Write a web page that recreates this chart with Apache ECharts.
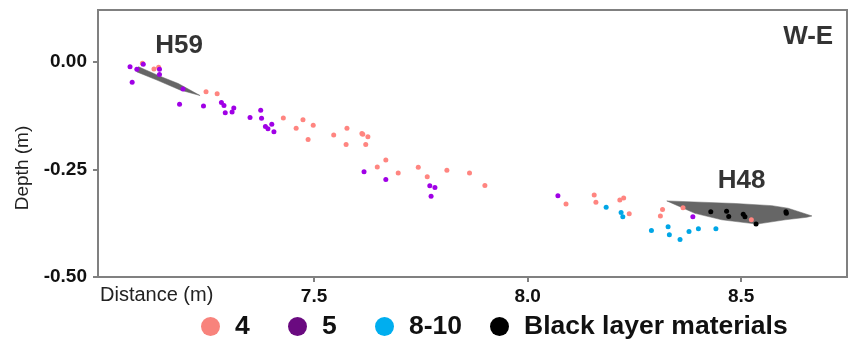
<!DOCTYPE html>
<html>
<head>
<meta charset="utf-8">
<script src="https://cdn.jsdelivr.net/npm/echarts@6/dist/echarts.min.js"></script>
<style>html,body{margin:0;padding:0;background:#fff;}#c{width:848px;height:343px;}</style>
</head>
<body>
<div id="c"></div>
<script>
// Layer 4 points [distance, depth]
var layer4 = [[7.098,-0.003],[7.125,-0.016],[7.136,-0.012],[7.247,-0.069],[7.273,-0.074],[7.428,-0.130],[7.458,-0.154],[7.474,-0.134],[7.486,-0.180],[7.498,-0.147],[7.546,-0.170],[7.575,-0.192],[7.577,-0.154],[7.612,-0.166],[7.614,-0.168],[7.626,-0.174],[7.621,-0.192],[7.668,-0.228],[7.648,-0.244],[7.697,-0.258],[7.744,-0.245],[7.765,-0.267],[7.811,-0.252],[7.864,-0.258],[7.900,-0.287],[8.090,-0.330],[8.156,-0.309],[8.160,-0.326],[8.216,-0.321],[8.225,-0.316],[8.238,-0.353],[8.316,-0.343],[8.311,-0.358],[8.364,-0.339],[8.524,-0.367]];
var layer5 = [[7.069,-0.011],[7.100,-0.005],[7.085,-0.017],[7.138,-0.017],[7.138,-0.029],[7.074,-0.047],[7.193,-0.063],[7.185,-0.098],[7.241,-0.102],[7.283,-0.094],[7.289,-0.101],[7.292,-0.118],[7.308,-0.116],[7.312,-0.107],[7.350,-0.129],[7.375,-0.112],[7.377,-0.131],[7.386,-0.150],[7.392,-0.155],[7.401,-0.145],[7.406,-0.162],[7.617,-0.255],[7.668,-0.273],[7.771,-0.288],[7.783,-0.292],[7.774,-0.312],[8.071,-0.311],[8.387,-0.360]];
var layer810 = [[8.184,-0.338],[8.219,-0.350],[8.223,-0.360],[8.290,-0.392],[8.329,-0.383],[8.332,-0.402],[8.357,-0.413],[8.378,-0.394],[8.400,-0.388],[8.441,-0.388]];
var blackLayer = [[8.429,-0.348],[8.466,-0.347],[8.471,-0.359],[8.505,-0.354],[8.509,-0.360],[8.535,-0.377],[8.605,-0.348],[8.606,-0.352]];
// Outlines of the hearths
var h59Shape = [[7.089,-0.011],[7.139,-0.033],[7.182,-0.050],[7.233,-0.078],[7.186,-0.065],[7.132,-0.042],[7.085,-0.023],[7.083,-0.016]];
var h48Shape = [[8.326,-0.323],[8.486,-0.329],[8.572,-0.334],[8.610,-0.340],[8.666,-0.358],[8.654,-0.361],[8.603,-0.367],[8.537,-0.377],[8.455,-0.367],[8.392,-0.352]];
// Annotations [x, y, text]
var annotations = [[7.184,0.037,'H59'],[8.501,-0.277,'H48'],[8.657,0.058,'W-E']];
var xTicks = [7.5, 8.0, 8.5];
var yTicks = [-0.5, -0.25, 0];
var seriesNames = ['4','5','8-10','Black layer materials'];

var pointColors = ['#ff8580','#a000e6','#00a6e6','#000000'];
var legendColors = ['#f8837c','#6a0a80','#00aeef','#000000'];
var legendLefts = [201, 288, 375, 490];
var font = 'Liberation Sans, Arial, sans-serif';

function polySeries(pts){
  return {
    type:'custom', silent:true, z:1, data:pts,
    renderItem:function(params, api){
      if(params.dataIndex!==0) return;
      var p = pts.map(function(d){return api.coord(d);});
      return {type:'polygon', shape:{points:p}, style:{fill:'#666666', stroke:'#666666', lineWidth:0.5}};
    }
  };
}
function pointSeries(name, data, color){
  return {type:'scatter', name:name, data:data, symbol:'circle', symbolSize:5, z:3,
    itemStyle:{color:color, opacity:1}};
}

var chart = echarts.init(document.getElementById('c'), null, {renderer:'canvas'});
chart.setOption({
  animation:false,
  backgroundColor:'#ffffff',
  grid:{left:98, right:1, top:10, bottom:66, show:true, borderColor:'#808080', borderWidth:2},
  xAxis:{type:'value', min:6.994, max:8.748,
    axisLine:{show:true, onZero:false, lineStyle:{color:'#808080', width:2}},
    axisTick:{show:true, inside:false, length:5, lineStyle:{color:'#808080', width:2}, customValues:xTicks},
    axisLabel:{customValues:xTicks, formatter:function(v){return v.toFixed(1);}, fontFamily:font, fontWeight:'bold', fontSize:19, color:'#111', margin:10},
    splitLine:{show:false}},
  yAxis:{type:'value', min:-0.5, max:0.121,
    axisLine:{show:true, onZero:false, lineStyle:{color:'#808080', width:2}},
    axisTick:{show:true, inside:false, length:5, lineStyle:{color:'#808080', width:2}, customValues:yTicks},
    axisLabel:{customValues:yTicks, formatter:function(v){return v.toFixed(2);}, fontFamily:font, fontWeight:'bold', fontSize:19, color:'#111', margin:11},
    splitLine:{show:false}},
  legend:seriesNames.map(function(n,i){
    return {left:legendLefts[i], top:313, padding:0, itemWidth:19, itemHeight:19, itemGap:10,
      textStyle:{fontFamily:font, fontWeight:'bold', fontSize:26.5, color:'#111', padding:[0,0,0,10]},
      data:[{name:n, icon:'circle', itemStyle:{color:legendColors[i]}}]};
  }),
  graphic:[
    {type:'text', left:100, top:285, style:{text:'Distance (m)', font:'20px '+font, fill:'#222'}},
    {type:'text', x:23, y:168, rotation:Math.PI/2, style:{text:'Depth (m)', font:'19px '+font, fill:'#222', align:'center', verticalAlign:'middle'}}
  ],
  series:[
    polySeries(h59Shape),
    polySeries(h48Shape),
    pointSeries(seriesNames[0], layer4, pointColors[0]),
    pointSeries(seriesNames[1], layer5, pointColors[1]),
    pointSeries(seriesNames[2], layer810, pointColors[2]),
    pointSeries(seriesNames[3], blackLayer, pointColors[3]),
    {type:'scatter', silent:true, symbolSize:0, z:4,
      data:annotations.map(function(a){return {value:[a[0],a[1]], name:a[2]};}),
      label:{show:true, position:'inside', formatter:'{b}', fontFamily:font, fontWeight:'bold', fontSize:26, color:'#000'}}
  ]
});
</script>
</body>
</html>
